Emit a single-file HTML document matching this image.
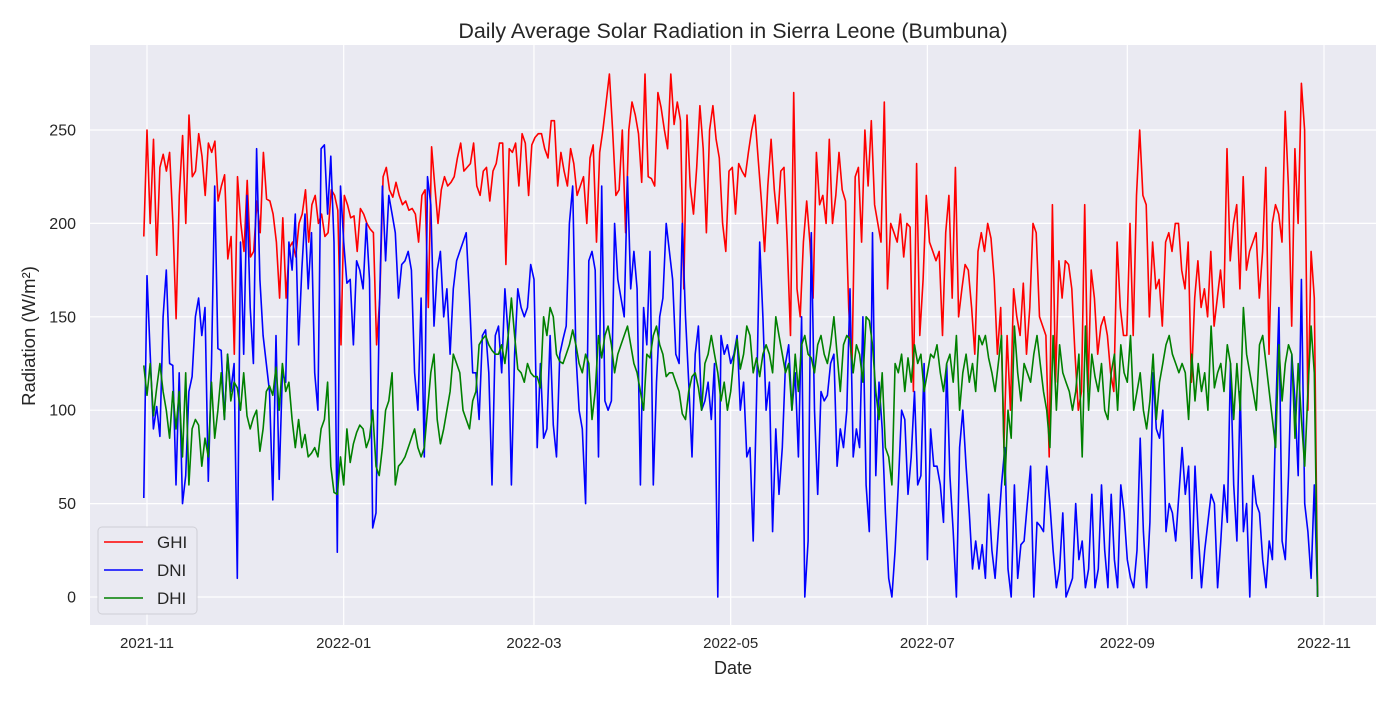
<!DOCTYPE html>
<html><head><meta charset="utf-8"><style>
body{margin:0;background:#fff;}
svg text{font-family:"Liberation Sans","DejaVu Sans",sans-serif;fill:#262626;}
</style></head><body>
<svg id="chart" width="1400" height="700" xmlns="http://www.w3.org/2000/svg">
<rect x="0" y="0" width="1400" height="700" fill="#fff"/>
<rect x="90" y="45" width="1286" height="580" fill="#eaeaf2"/>
<g id="grid"></g>
<g id="series"></g>
<g id="ticks"></g>
<text x="733" y="38" text-anchor="middle" font-size="21.5">Daily Average Solar Radiation in Sierra Leone (Bumbuna)</text>
<text x="733" y="674" text-anchor="middle" font-size="18">Date</text>
<text x="35" y="336" text-anchor="middle" font-size="18.5" transform="rotate(-90 35 336)">Radiation (W/m²)</text>
<g>
<rect x="98" y="527" width="99" height="87" rx="4" fill="#eaeaf2" stroke="#cfcfd6" stroke-width="1"/>
<g><line x1="104" y1="542" x2="143" y2="542" stroke="#ff0000" stroke-width="1.6"/><text x="157" y="548" font-size="17">GHI</text></g>
<g><line x1="104" y1="570" x2="143" y2="570" stroke="#0000ff" stroke-width="1.6"/><text x="157" y="576" font-size="17">DNI</text></g>
<g><line x1="104" y1="598" x2="143" y2="598" stroke="#008000" stroke-width="1.6"/><text x="157" y="604" font-size="17">DHI</text></g>
</g>
</svg>
<script>
const startDate = "2021-10-31";
const endDate = "2022-10-30";
const yTicks = [0,50,100,150,200,250];
const xTickLabels = ["2021-11","2022-01","2022-03","2022-05","2022-07","2022-09","2022-11"];
const ghi = [193,250,200,245,183,230,237,228,238,200,149,215,247,200,258,225,228,248,236,215,243,238,244,212,220,226,181,193,130,225,
200,185,223,182,185,212,195,238,213,212,205,190,160,203,160,187,190,182,200,205,218,190,210,215,200,205,193,195,218,215,207,
135,215,210,203,204,185,208,205,200,197,195,135,160,225,230,218,214,222,215,210,212,207,208,205,190,215,218,155,241,220,200,
218,225,220,222,225,235,243,228,230,232,243,220,215,228,230,212,228,232,243,243,178,240,238,243,220,248,243,215,
242,246,248,248,240,235,255,255,220,238,228,220,240,232,215,220,225,200,235,242,190,238,250,265,280,250,215,218,250,195,250,
265,258,248,222,280,225,224,220,270,262,250,240,280,253,265,255,165,258,220,205,230,263,240,195,250,263,245,235,200,185,
228,230,205,232,228,225,238,250,258,235,212,185,220,245,218,200,228,230,190,140,270,165,150,190,212,190,160,238,210,215,200,
245,200,215,238,218,212,155,120,225,230,190,250,220,255,210,200,190,265,165,200,195,190,205,182,200,198,110,232,140,170,
215,190,185,180,185,140,195,215,160,230,150,165,178,175,155,130,185,195,185,200,192,170,130,155,80,140,100,165,150,140,168,
130,155,200,195,150,145,140,75,210,115,180,160,180,178,165,130,100,110,210,110,175,160,130,145,150,140,120,110,190,155,140,
140,200,140,215,250,215,210,150,190,165,170,145,190,195,185,200,200,175,165,190,115,160,180,155,165,150,185,145,160,175,
155,240,180,200,210,165,225,175,185,190,195,160,185,230,130,200,210,205,190,260,220,145,240,200,275,250,100,185,160,0];
const dni = [53,172,130,90,102,86,150,175,125,124,60,120,50,65,110,118,150,160,140,155,62,125,220,133,132,95,130,110,125,10,
190,130,215,155,125,240,170,140,125,110,52,140,63,120,115,190,175,205,135,175,205,165,195,120,100,240,242,205,236,190,24,
220,190,168,170,135,180,175,165,200,170,37,45,150,220,180,215,205,195,160,178,180,185,175,120,100,160,75,225,210,145,175,
185,150,165,130,165,180,185,190,195,160,120,120,95,140,143,120,60,140,145,120,165,140,60,130,165,155,150,155,
178,170,80,125,85,90,140,92,75,130,138,145,200,220,130,100,90,50,180,185,175,75,220,105,100,105,200,170,160,150,225,
165,185,165,60,155,135,185,60,115,150,160,200,185,170,130,125,200,150,115,75,130,145,100,105,115,95,125,0,140,130,
135,125,130,140,100,115,75,80,30,105,190,150,100,115,35,90,55,80,125,135,100,120,75,150,0,30,195,100,55,110,105,
108,125,130,70,90,80,100,165,75,90,80,150,60,35,195,65,115,90,45,10,0,25,60,100,95,55,75,110,60,65,
125,20,90,70,70,60,40,125,65,35,0,80,100,70,45,15,30,15,28,10,55,25,10,35,60,80,15,0,60,10,28,
30,50,70,0,40,38,35,70,50,25,5,15,45,0,5,10,50,20,30,5,15,55,5,15,60,25,5,55,20,5,60,
45,20,10,5,25,85,35,5,40,120,90,85,100,35,50,45,30,55,80,55,70,10,70,35,5,25,40,55,50,5,
30,60,40,125,60,30,110,35,50,0,65,50,45,20,5,30,20,95,155,30,20,65,130,105,65,170,50,35,10,60,0];
const dhi = [124,108,125,97,112,125,110,100,85,110,90,110,75,120,60,90,95,92,70,85,75,115,85,100,120,95,130,105,115,112,
100,120,97,90,96,100,78,90,110,113,108,123,100,125,110,115,95,80,95,80,87,75,77,80,75,90,95,115,70,56,55,
75,60,90,72,82,88,92,90,80,85,100,70,65,80,100,105,120,60,70,72,75,80,85,90,80,75,80,100,120,130,95,
82,90,100,110,130,125,120,100,95,90,105,110,135,138,140,135,132,130,130,135,125,140,160,140,122,120,115,125,
120,118,118,112,150,140,155,150,130,126,125,130,135,143,135,125,120,130,125,95,110,140,128,140,145,135,120,130,135,140,145,
135,125,120,110,100,130,128,140,145,135,130,118,120,120,115,110,98,95,110,118,120,112,100,125,130,140,130,120,105,115,
100,110,128,138,122,130,145,140,120,128,118,130,135,130,120,150,140,130,120,125,100,130,110,135,140,130,128,120,135,140,130,
125,135,150,130,110,135,140,138,120,135,130,115,150,148,135,110,95,120,80,75,60,125,120,130,110,128,115,135,125,130,
110,120,130,128,135,120,110,125,130,115,140,100,120,130,115,125,110,140,135,140,128,120,110,125,140,60,100,85,145,120,105,
125,120,115,130,140,125,110,100,80,140,100,135,120,115,110,100,110,130,75,145,100,130,118,110,125,100,95,120,130,100,135,
120,115,140,100,110,120,100,90,105,130,95,115,125,135,140,130,125,120,125,120,95,130,105,125,110,120,100,145,112,120,
125,110,135,125,95,125,100,155,130,120,110,100,135,140,125,110,95,80,135,105,125,135,130,85,125,95,70,110,145,120,0];

const NS="http://www.w3.org/2000/svg";
const X0=147, X1=1324, T0=Date.UTC(2021,10,1), T1=Date.UTC(2022,10,1);
function xOfTime(t){return X0+(t-T0)/(T1-T0)*(X1-X0);}
function parseD(s){const p=s.split("-").map(Number);return Date.UTC(p[0],p[1]-1,p[2]||1);}
function yScale(v){return 597-v*(597-130)/250;}
const tS=parseD(startDate), tE=parseD(endDate);
function xIdx(i,n){return xOfTime(tS+(tE-tS)*i/(n-1));}

const grid=document.getElementById("grid"), ticks=document.getElementById("ticks"), series=document.getElementById("series");
yTicks.forEach(v=>{
  const y=yScale(v);
  const l=document.createElementNS(NS,"line");
  l.setAttribute("x1",90);l.setAttribute("x2",1376);l.setAttribute("y1",y);l.setAttribute("y2",y);
  l.setAttribute("stroke","#fff");l.setAttribute("stroke-width","1.2");
  
  
  grid.appendChild(l);
  const t=document.createElementNS(NS,"text");
  t.setAttribute("x",76);t.setAttribute("y",y+5.5);t.setAttribute("text-anchor","end");t.setAttribute("font-size","16");
  t.textContent=v;
  
  
  ticks.appendChild(t);
});
xTickLabels.forEach(s=>{
  const x=xOfTime(parseD(s));
  const l=document.createElementNS(NS,"line");
  l.setAttribute("x1",x);l.setAttribute("x2",x);l.setAttribute("y1",45);l.setAttribute("y2",625);
  l.setAttribute("stroke","#fff");l.setAttribute("stroke-width","1.2");
  
  
  grid.appendChild(l);
  const t=document.createElementNS(NS,"text");
  t.setAttribute("x",x);t.setAttribute("y",648);t.setAttribute("text-anchor","middle");t.setAttribute("font-size","15");
  t.textContent=s;
  
  
  ticks.appendChild(t);
});
function draw(arr,color,name){
  const pts=arr.map((v,i)=>xIdx(i,arr.length).toFixed(1)+","+yScale(v).toFixed(1)).join(" ");
  const p=document.createElementNS(NS,"polyline");
  p.setAttribute("points",pts);p.setAttribute("fill","none");p.setAttribute("stroke",color);
  p.setAttribute("stroke-width","1.6");p.setAttribute("stroke-linejoin","round");
  
  
  series.appendChild(p);
}
draw(ghi,"#ff0000","ghi-line");
draw(dni,"#0000ff","dni-line");
draw(dhi,"#008000","dhi-line");
</script>
</body></html>
